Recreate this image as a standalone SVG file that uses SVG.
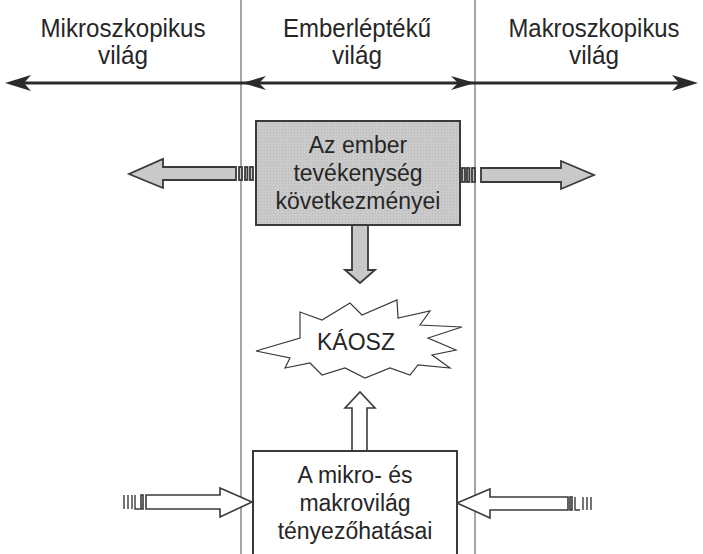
<svg xmlns="http://www.w3.org/2000/svg" width="703" height="554" viewBox="0 0 703 554">
  <defs>
    <style>
      .lbl { font-family: "Liberation Sans", Arial, sans-serif; font-size: 23px; fill: #262626; text-anchor: middle; }
      .head-lbl { font-size: 25.5px; }
      .divider { stroke: #6a6a6a; stroke-width: 1.2; fill: none; }
      .scale { stroke: #2a2a2a; stroke-width: 3; fill: none; }
      .head { fill: #2a2a2a; stroke: none; }
      .grey { fill: #c9c9c9; stroke: #3a3a3a; stroke-width: 1.8; stroke-linejoin: miter; }
      .white { fill: #ffffff; stroke: #3a3a3a; stroke-width: 1.6; stroke-linejoin: miter; }
      .tick { stroke: #3a3a3a; stroke-width: 1.4; fill: none; }
    </style>
    <pattern id="grain" width="3" height="3" patternUnits="userSpaceOnUse">
      <rect width="3" height="3" fill="#cacaca"/>
      <rect width="1" height="1" fill="#b6b6b6"/>
    </pattern>
  </defs>
  <rect width="703" height="554" fill="#ffffff"/>

  <!-- scale dividers -->
  <g id="dividers">
    <line class="divider" x1="241" y1="0" x2="241" y2="554"/>
    <line class="divider" x1="475" y1="0" x2="475" y2="554"/>
  </g>

  <!-- column headings (slightly condensed lettering) -->
  <g id="micro-label">
    <text class="lbl head-lbl" x="123" y="37" textLength="165" lengthAdjust="spacingAndGlyphs">Mikroszkopikus</text>
    <text class="lbl head-lbl" x="123" y="64" textLength="50" lengthAdjust="spacingAndGlyphs">világ</text>
  </g>
  <g id="human-label">
    <text class="lbl head-lbl" x="357" y="37" textLength="148" lengthAdjust="spacingAndGlyphs">Emberléptékű</text>
    <text class="lbl head-lbl" x="357" y="64" textLength="50" lengthAdjust="spacingAndGlyphs">világ</text>
  </g>
  <g id="macro-label">
    <text class="lbl head-lbl" x="594" y="37" textLength="171" lengthAdjust="spacingAndGlyphs">Makroszkopikus</text>
    <text class="lbl head-lbl" x="594" y="64" textLength="50" lengthAdjust="spacingAndGlyphs">világ</text>
  </g>

  <g id="connectors">
    <!-- size scale with ranges -->
    <line class="scale" x1="12" y1="83" x2="690" y2="83"/>
    <path class="head" d="M5,83 L31,75 L24,83 L31,91 Z"/>
    <path class="head" d="M242,83 L266,76 L259,83 L266,90 Z"/>
    <path class="head" d="M475,83 L451,76 L458,83 L451,90 Z"/>
    <path class="head" d="M698,83 L672,75 L679,83 L672,91 Z"/>

    <!-- left outgoing consequence arrow -->
    <path class="grey" fill="url(#grain)" d="M236,167 L163,167 L163,159 L129,174 L163,188 L163,180 L236,180 Z"/>
    <rect class="grey" x="239" y="167" width="3" height="13"/>
    <rect class="grey" x="245" y="167" width="2.5" height="13"/>
    <rect class="grey" x="250" y="167" width="3" height="13"/>

    <!-- right outgoing consequence arrow -->
    <rect class="grey" x="462" y="168" width="3" height="14"/>
    <rect class="grey" x="467" y="168" width="2.5" height="14"/>
    <rect class="grey" x="472" y="168" width="3" height="14"/>
    <path class="grey" d="M481,168 L561,168 L561,161 L594,175 L561,189 L561,182 L481,182 Z"/>

    <!-- down into chaos -->
    <path class="grey" d="M352,225 L352,270 L345,270 L360,283 L375,270 L368,270 L368,225"/>

    <!-- up into chaos -->
    <path class="white" d="M352,451 L352,408 L345,408 L360,392 L375,408 L367,408 L367,451"/>

    <!-- left incoming factor arrow -->
    <line class="tick" x1="124" y1="495" x2="124" y2="509"/>
    <line class="tick" x1="128" y1="495" x2="128" y2="509"/>
    <line class="tick" x1="132" y1="495" x2="132" y2="509"/>
    <polyline class="tick" points="135,495 135,509 140,509"/>
    <rect class="white" x="141" y="495" width="2" height="14"/>
    <path class="white" d="M146,495 L220,495 L220,488 L252,502 L220,517 L220,509 L146,509 Z"/>

    <!-- right incoming factor arrow -->
    <path class="white" d="M568,497 L490,497 L490,489 L457,503 L490,518 L490,510 L568,510 Z"/>
    <rect class="white" x="570" y="497" width="2" height="13"/>
    <polyline class="tick" points="575,497 575,510 580,510"/>
    <line class="tick" x1="583" y1="497" x2="583" y2="510"/>
    <line class="tick" x1="587" y1="497" x2="587" y2="510"/>
    <line class="tick" x1="591" y1="497" x2="591" y2="510"/>
  </g>

  <g id="human-activity">
    <rect x="256" y="121" width="204" height="104" fill="url(#grain)" stroke="#3a3a3a" stroke-width="2"/>
    <text class="lbl" x="358" y="153">Az ember</text>
    <text class="lbl" x="358" y="181">tevékenység</text>
    <text class="lbl" x="358" y="209">következményei</text>
  </g>

  <g id="chaos">
    <path fill="#ffffff" stroke="#3a3a3a" stroke-width="1.2" stroke-linejoin="miter"
          d="M256,351 L300,338 L300,312 L322,320 L350,303 L362,315 L397,300 L398,318 L430,311 L420,325 L462,327 L428,338 L456,350 L432,355 L450,368 L418,365 L410,375 L390,368 L365,378 L345,368 L322,375 L310,363 L285,368 L290,358 Z"/>
    <text class="lbl" x="356" y="350" font-size="22">KÁOSZ</text>
  </g>

  <g id="factors">
    <rect x="253" y="451" width="204" height="110" fill="#ffffff" stroke="#3a3a3a" stroke-width="2"/>
    <text class="lbl" x="355" y="483">A mikro- és</text>
    <text class="lbl" x="355" y="511">makrovilág</text>
    <text class="lbl" x="355" y="539">tényezőhatásai</text>
  </g>
</svg>
